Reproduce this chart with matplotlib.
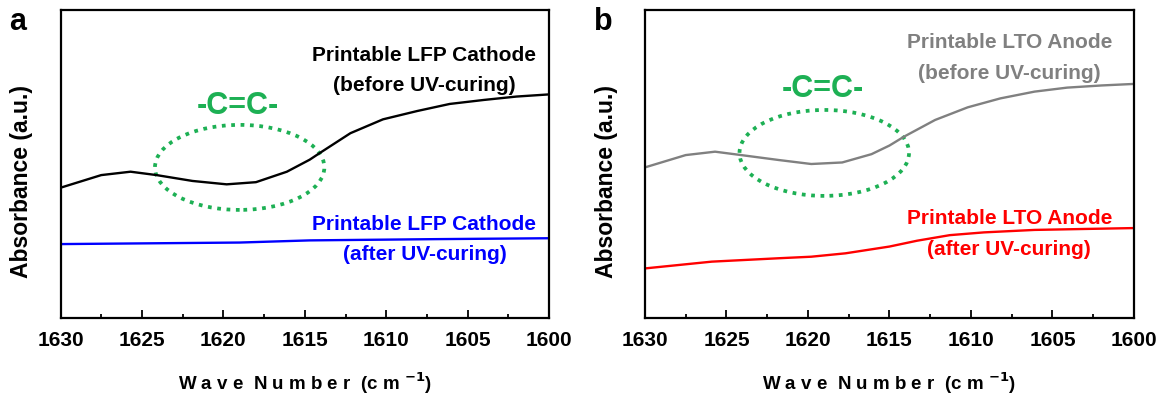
import numpy as np
import matplotlib.pyplot as plt
from matplotlib.patches import Ellipse

plt.rcParams['font.family'] = ['Liberation Sans', 'DejaVu Sans']
plt.rcParams['font.weight'] = 'bold'
plt.rcParams['mathtext.default'] = 'bf'

# panel a: LFP cathode
wn_a_before = [1630, 1627.5, 1625.7, 1624.1, 1621.9, 1619.8, 1618.0, 1616.1, 1614.7,
               1614.1, 1612.2, 1610.2, 1608.1, 1606.1, 1604.0, 1602.0, 1600]
abs_a_before = [0.423, 0.464, 0.475, 0.464, 0.445, 0.434, 0.441, 0.475, 0.514,
                0.535, 0.600, 0.645, 0.672, 0.695, 0.708, 0.719, 0.726]
wn_a_after = [1630, 1619, 1614.7, 1607.1, 1600]
abs_a_after = [0.240, 0.245, 0.252, 0.256, 0.259]

# panel b: LTO anode
wn_b_before = [1630, 1627.5, 1625.7, 1624.1, 1621.8, 1619.8, 1617.9, 1616.1, 1615.0,
               1614.1, 1612.2, 1610.2, 1608.2, 1606.1, 1604.1, 1602.0, 1600]
abs_b_before = [0.489, 0.529, 0.540, 0.529, 0.513, 0.500, 0.505, 0.532, 0.560,
                0.589, 0.643, 0.684, 0.713, 0.735, 0.748, 0.755, 0.760]
wn_b_after = [1630, 1625.9, 1621.8, 1619.8, 1617.7, 1615.0, 1613.3, 1611.3, 1609.2,
              1606.1, 1603.1, 1600]
abs_b_after = [0.161, 0.183, 0.194, 0.199, 0.210, 0.232, 0.251, 0.269, 0.278,
               0.286, 0.289, 0.292]

green = '#1db054'

fig = plt.figure(figsize=(11.64, 4.05), dpi=100)
ax_a = fig.add_axes([0.0520, 0.2148, 0.4197, 0.7605])
ax_b = fig.add_axes([0.5541, 0.2148, 0.4201, 0.7605])

panels = [
    (ax_a, 'a', 0.008, wn_a_before, abs_a_before, 'black', wn_a_after, abs_a_after, 'blue',
     'Printable LFP Cathode', (0.835, 0.738, 0.286, 0.188), (0.489, 0.276, 0.661)),
    (ax_b, 'b', 0.510, wn_b_before, abs_b_before, 'gray', wn_b_after, abs_b_after, 'red',
     'Printable LTO Anode', (0.876, 0.775, 0.305, 0.205), (0.536, 0.279, 0.719)),
]

for ax, letter, lx, x1, y1, c1, x2, y2, c2, name, tys, ell in panels:
    ax.plot(x1, y1, color=c1, lw=1.7)
    ax.plot(x2, y2, color=c2, lw=1.7)
    ax.set_xlim(1630, 1600)
    ax.set_ylim(0, 1)
    ax.set_xticks([1630, 1625, 1620, 1615, 1610, 1605, 1600])
    ax.set_xticks(np.arange(1627.5, 1600, -5), minor=True)
    ax.set_yticks([])
    ax.tick_params(axis='x', direction='in', length=6, width=1.3, labelsize=15, pad=9)
    ax.tick_params(axis='x', which='minor', direction='in', length=3, width=1.3)
    for lab in ax.get_xticklabels():
        lab.set_fontweight('bold')
    for sp in ax.spines.values():
        sp.set_linewidth(1.6)
    ax.set_xlabel('W a v e  N u m b e r  (c m $^{-1}$)', fontsize=13.5,
                  fontweight='bold', labelpad=15)
    ax.set_ylabel('Absorbance (a.u.)', fontsize=16.5, fontweight='bold')
    ax.yaxis.set_label_coords(-0.056, 0.443)

    ey, eh, cy = ell
    ax.add_patch(Ellipse((1619.0, ey), 10.4, eh, fill=False, edgecolor=green,
                         linestyle=(0, (1, 1.5)), lw=2.7))
    ax.text(1619.1, cy, '-C=C-', color=green, fontsize=22, fontweight='bold',
            ha='center', va='baseline')
    ax.text(1607.65, tys[0], name, color=c1, fontsize=15, fontweight='bold',
            ha='center', va='baseline')
    ax.text(1607.65, tys[1], '(before UV-curing)', color=c1, fontsize=15,
            fontweight='bold', ha='center', va='baseline')
    ax.text(1607.65, tys[2], name, color=c2, fontsize=15, fontweight='bold',
            ha='center', va='baseline')
    ax.text(1607.65, tys[3], '(after UV-curing)', color=c2, fontsize=15,
            fontweight='bold', ha='center', va='baseline')
    fig.text(lx, 0.945, letter, fontsize=22, fontweight='bold', ha='left', va='center')

plt.savefig('out.png', dpi=100)
